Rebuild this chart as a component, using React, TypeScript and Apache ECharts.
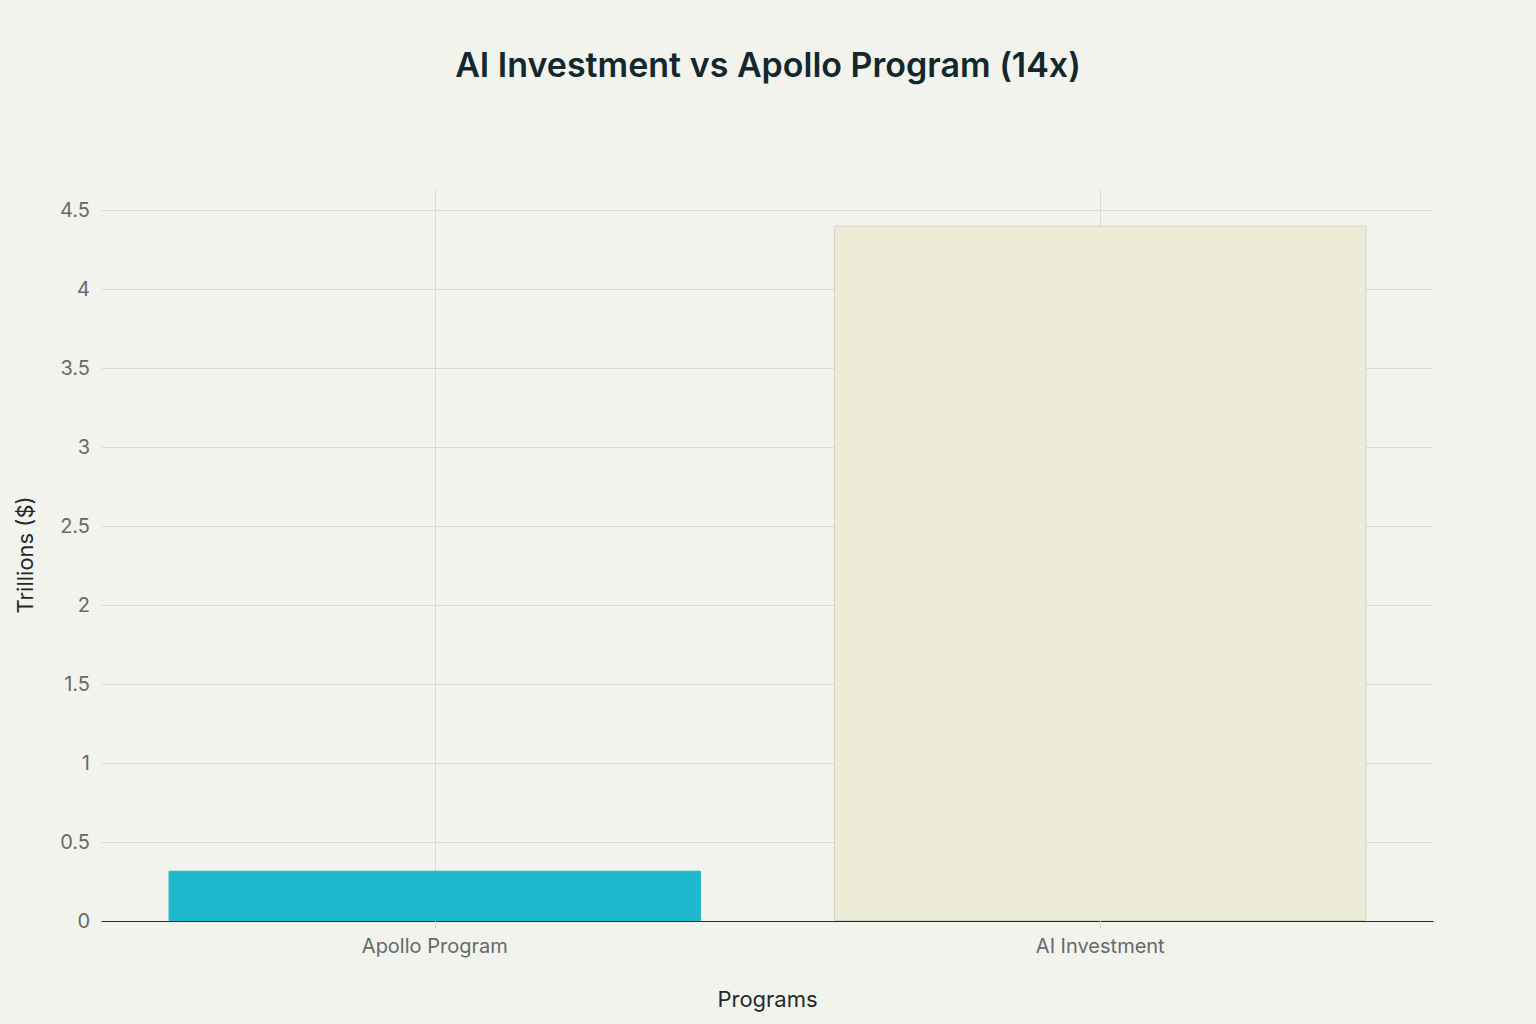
import React, { useEffect, useRef } from "react";
import * as echarts from "echarts";

const categories = ["Apollo Program", "AI Investment"];
const values = [0.318, 4.4];
const barColors = ["#1FB8CD", "#ECEBD5"];
const barBorders = ["#1FB8CD", "#D3D3CB"];
const yTicks = [0.5, 1, 1.5, 2, 2.5, 3, 3.5, 4, 4.5];
const yMax = 4.632;

const FONT = "Inter, 'Open Sans', 'DejaVu Sans', sans-serif";

export default function App() {
  const ref = useRef<HTMLDivElement>(null);
  useEffect(() => {
    if (!ref.current) return;
    const chart = echarts.init(ref.current, undefined, { renderer: "svg" });
    const gridColor = "#DADAD4";
    chart.setOption({
      animation: false,
      backgroundColor: "#F3F3EE",
      textStyle: { fontFamily: FONT },
      title: {
        text: "AI Investment vs Apollo Program (14x)",
        left: "center",
        top: 42,
        textStyle: { fontFamily: FONT, fontSize: 34, fontWeight: 600, color: "#13282C" },
      },
      grid: { left: 102, right: 103, top: 189, bottom: 103 },
      xAxis: {
        type: "category",
        data: categories,
        name: "Programs",
        nameLocation: "middle",
        nameGap: 67,
        nameTextStyle: { fontSize: 22, color: "#1E2A2C", fontFamily: FONT },
        axisLine: { show: true, lineStyle: { color: "#2A2A2A", width: 1 } },
        axisTick: { show: true, alignWithLabel: true, length: 7, lineStyle: { color: gridColor } },
        axisLabel: { fontSize: 20, color: "#646A6C", margin: 15, fontFamily: FONT },
        splitLine: { show: false },
      },
      yAxis: {
        type: "value",
        min: 0,
        max: yMax,
        interval: 0.5,
        name: "Trillions ($)",
        nameLocation: "middle",
        nameGap: 66,
        nameTextStyle: { fontSize: 22, color: "#1E2A2C", fontFamily: FONT },
        axisLine: { show: false },
        axisTick: { show: false },
        splitLine: { show: false },
        axisLabel: { fontSize: 20, color: "#646A6C", margin: 12, showMaxLabel: false, fontFamily: FONT },
      },
      series: [
        {
          type: "line",
          data: categories.map(() => null),
          symbol: "none",
          z: 1,
          silent: true,
          markLine: {
            silent: true,
            z: 1,
            symbol: ["none", "none"],
            label: { show: false },
            lineStyle: { type: "solid", color: gridColor, width: 1 },
            data: [
              ...yTicks.map((v) => ({ yAxis: v })),
              ...categories.map((c) => ({ xAxis: c })),
            ],
          },
        },
        {
          type: "bar",
          z: 10,
          barCategoryGap: "20%",
          data: values.map((v, i) => ({
            value: v,
            itemStyle: { color: barColors[i], borderColor: barBorders[i], borderWidth: 1 },
          })),
        },
      ],
    });
    return () => chart.dispose();
  }, []);
  return (
    <div
      ref={ref}
      style={{ position: "absolute", left: 0, top: 0, width: 1536, height: 1024 }}
    />
  );
}
